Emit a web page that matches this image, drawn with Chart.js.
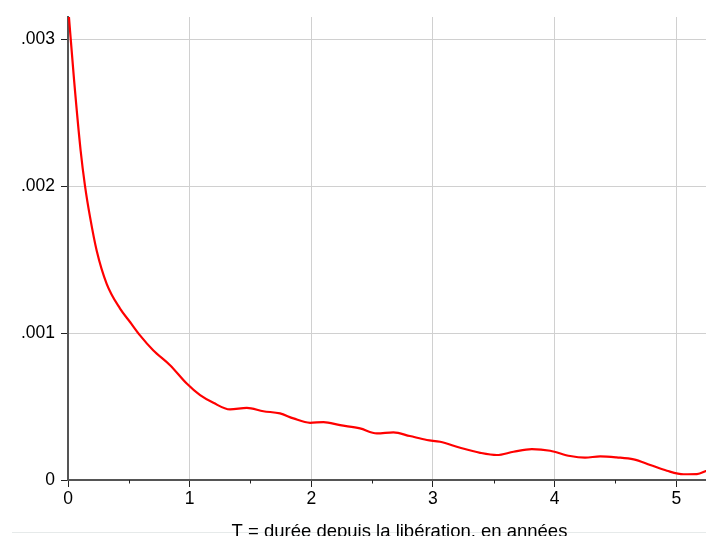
<!DOCTYPE html>
<html>
<head>
<meta charset="utf-8">
<script src="https://cdn.jsdelivr.net/npm/chart.js@4.4.0/dist/chart.umd.min.js"></script>
<style>
  html, body { margin: 0; padding: 0; width: 706px; height: 536px; overflow: hidden; background: #fff; }
  #wrap { position: relative; width: 731px; height: 536px; }
  #rule { position: absolute; left: 12px; top: 532px; width: 720px; border-top: 1px solid #e6eaea; }
  canvas { position: absolute; left: 0; top: 0; }
</style>
</head>
<body>
<div id="wrap"><div id="rule"></div><canvas id="mainChart" width="731" height="536"></canvas></div>
<script>
// values
const years = [0, 0.05, 0.104, 0.14, 0.181, 0.236, 0.318, 0.428, 0.51, 0.592, 0.70, 0.839, 0.976,
  1.086, 1.195, 1.332, 1.47, 1.606, 1.743, 1.853, 1.99, 2.10, 2.237, 2.40, 2.539, 2.675, 2.81, 2.95,
  3.059, 3.224, 3.388, 3.525, 3.662, 3.813, 3.964, 4.128, 4.25, 4.375, 4.51, 4.65, 4.786, 4.923,
  5.06, 5.17, 5.25];
const density = [0.00323, 0.00272, 0.00224, 0.0020, 0.00179, 0.00156, 0.001335, 0.001166, 0.001075,
  0.000984, 0.000883, 0.000781, 0.000656, 0.000577, 0.000525, 0.00048, 0.000491, 0.000468, 0.000453,
  0.000419, 0.000389, 0.000394, 0.000373, 0.000351, 0.000317, 0.000324, 0.000299, 0.000272, 0.00026,
  0.000219, 0.000185, 0.00017, 0.000192, 0.00021, 0.000199, 0.000163, 0.000152, 0.000161, 0.000154,
  0.00014, 0.000102, 0.000063, 0.000039, 0.00004, 0.000063];
const minorTicks = [0.5, 1.5, 2.5, 3.5, 4.5];
const xTitle = 'T = durée depuis la libération, en années';

const FONT = '"Liberation Sans", Arial, sans-serif';
const isWhole = (v, step) => Math.abs(v / step - Math.round(v / step)) < 1e-6;

const minorTickPlugin = {
  id: 'minorTicks',
  afterDraw(chart) {
    const xs = chart.scales.x;
    const ctx = chart.ctx;
    const y0 = chart.chartArea.bottom;
    ctx.save();
    ctx.strokeStyle = '#222';
    ctx.lineWidth = 1;
    minorTicks.forEach(v => {
      const px = Math.round(xs.getPixelForValue(v)) + 0.5;
      ctx.beginPath();
      ctx.moveTo(px, y0);
      ctx.lineTo(px, y0 + 3.5);
      ctx.stroke();
    });
    ctx.restore();
  }
};

const ctx = document.getElementById('mainChart').getContext('2d');
new Chart(ctx, {
  type: 'line',
  data: {
    datasets: [{
      data: years.map((t, i) => ({ x: t, y: density[i] })),
      borderColor: '#ff0000',
      borderWidth: 2.2,
      pointRadius: 0,
      cubicInterpolationMode: 'monotone',
      fill: false
    }]
  },
  options: {
    responsive: false,
    animation: false,
    layout: { padding: { top: 17, right: 0, left: 0, bottom: 0 } },
    plugins: { legend: { display: false }, tooltip: { enabled: false } },
    scales: {
      x: {
        type: 'linear',
        min: 0,
        max: 5.45,
        afterFit: s => { s.height = 56; },
        border: { display: true, color: '#555', width: 2 },
        grid: {
          color: c => (c.tick && c.tick.value > 1e-9 && isWhole(c.tick.value, 1)) ? '#d0d0d0' : 'rgba(0,0,0,0)',
          lineWidth: 1,
          drawTicks: true,
          tickLength: 7,
          tickWidth: 1,
          tickColor: c => (c.tick && isWhole(c.tick.value, 1)) ? '#222' : 'rgba(0,0,0,0)'
        },
        ticks: {
          stepSize: 0.5,
          includeBounds: false,
          autoSkip: false,
          maxRotation: 0,
          padding: 2,
          color: '#000',
          font: { family: FONT, size: 17.5 },
          callback: v => isWhole(v, 1) ? String(Math.round(v)) : ''
        },
        title: {
          display: true,
          text: xTitle,
          color: '#000',
          font: { family: FONT, size: 18.5, lineHeight: 1 },
          padding: { top: 0, bottom: -5 }
        }
      },
      y: {
        type: 'linear',
        min: 0,
        max: 0.00315,
        afterFit: s => { s.width = 68; },
        border: { display: true, color: '#555', width: 2 },
        grid: {
          color: c => (c.tick && c.tick.value > 1e-9) ? '#d0d0d0' : 'rgba(0,0,0,0)',
          lineWidth: 1,
          drawTicks: true,
          tickLength: 7,
          tickWidth: 1,
          tickColor: '#222'
        },
        ticks: {
          stepSize: 0.001,
          includeBounds: false,
          padding: 6,
          color: '#000',
          font: { family: FONT, size: 17.5 },
          callback: v => v === 0 ? '0' : v.toFixed(3).replace(/^0/, '')
        }
      }
    }
  },
  plugins: [minorTickPlugin]
});
</script>
</body>
</html>
